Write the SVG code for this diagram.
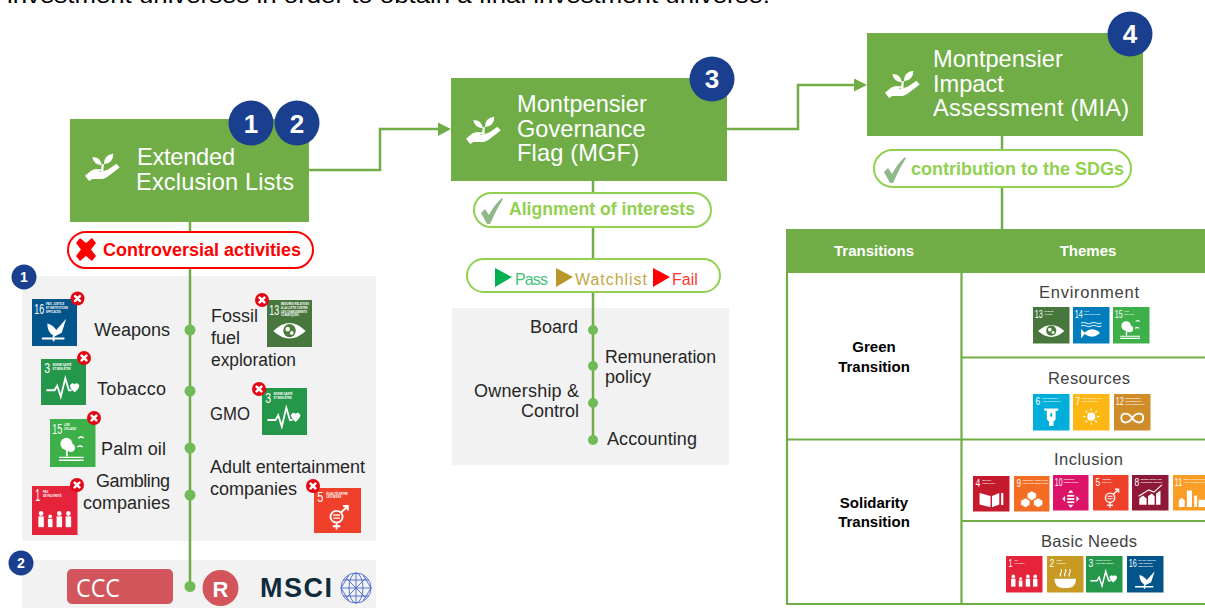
<svg xmlns="http://www.w3.org/2000/svg" width="1205" height="608" viewBox="0 0 1205 608">
<style>
text{font-family:"Liberation Sans",Arial,sans-serif}
.s{font-family:"Open Sans","DejaVu Sans",sans-serif}
.box{fill:#70ad47}
.ttl{fill:#fff;font-size:23.6px}
.badge{fill:#1a3f8f}
.bn{fill:#fff;font-size:26px;font-weight:bold;text-anchor:middle}
.sb{fill:#1a3f8f}
.sbn{fill:#fff;font-size:14px;font-weight:bold;text-anchor:middle}
.panel{fill:#f2f2f2}
.line{fill:none;stroke:#70ad47;stroke-width:2.5}
.pill{fill:#fff;stroke:#92d050;stroke-width:2}
.dot{fill:#70bb57}
.lb{fill:#262626;font-size:18px}
.th{fill:#fff;font-size:15px;font-weight:bold;text-anchor:middle}
.tg{fill:#000;font-size:15px;font-weight:bold;text-anchor:middle}
.tm{fill:#404040;font-size:16.5px;text-anchor:middle}
.grid{fill:none;stroke:#70ad47;stroke-width:2.2}
.n{fill:#fff;font-size:32px}
.l{fill:#fff;font-size:5.8px;font-weight:bold}
.w{fill:#fff}
.wl{fill:none;stroke:#fff;stroke-width:4}
.xb{fill:#e30613}
.xs{fill:none;stroke:#fff;stroke-width:2.6;stroke-linecap:round}
</style>
<defs>
<g id="hand"><path class="w" d="M0 17 L4 22 L7 20 L17 20 Q21 19 24 16 L33 9 L30 5.5 L22 11 L16 13 L13 13 L17 11 L10 10.5 L6 12 Z"/><path class="w" d="M15 13 L16 6 L18 6 L17.5 13 Z"/><path class="w" d="M16 7 Q8 6 7 -1 Q15 -1 16 7 Z"/><path class="w" d="M18 6 Q18 -3 27 -4 Q27 5 18 6 Z"/></g>
<g id="x"><circle class="xb" r="7"/><path class="xs" d="M-2.4 -2.4 L2.4 2.4 M2.4 -2.4 L-2.4 2.4"/></g>
<g id="i1"><g class="w"><circle cx="20" cy="56" r="5"/><rect x="14" y="62" width="12" height="22"/><circle cx="40" cy="62" r="4"/><rect x="35" y="67" width="10" height="17"/><circle cx="60" cy="56" r="5"/><rect x="54" y="62" width="12" height="22"/><circle cx="80" cy="56" r="5"/><rect x="74" y="62" width="12" height="22"/></g></g>
<g id="i2"><path class="w" d="M20 62 H80 Q78 86 58 88 H42 Q22 86 20 62Z"/><path class="wl" style="stroke-width:3" d="M38 56 q-4 -6 0 -10 q4 -5 0 -10 M50 56 q-4 -6 0 -10 q4 -5 0 -10 M62 56 q-4 -6 0 -10 q4 -5 0 -10"/></g>
<g id="i3"><path class="wl" d="M12 68 H30 L36 58 L44 82 L54 42 L62 68 H68"/><path class="w" d="M74 58 q6 -8 11 -2 q5 -6 11 2 q0 8 -11 16 q-11 -8 -11 -16Z" transform="translate(-6 2) scale(.95)"/></g>
<g id="i4"><path class="w" d="M18 48 L48 56 V88 L18 80 Z M52 56 L72 48 V80 L52 88 Z"/><rect class="w" x="77" y="48" width="6" height="34"/></g>
<g id="i5"><circle class="wl" cx="48" cy="64" r="13"/><path class="wl" d="M48 77 V92 M40 85 H56 M57 55 L72 40 M62 40 H72 V50"/><path class="wl" style="stroke-width:3" d="M41 60 H55 M41 67 H55"/></g>
<g id="i6"><path class="w" d="M30 40 H70 L68 46 H62 V70 L56 76 V88 H44 V76 L38 70 V46 H32 Z"/><path fill="#00b0d8" d="M50 50 Q56 59 50 64 Q44 59 50 50Z"/></g>
<g id="i7"><circle class="w" cx="50" cy="62" r="11"/><path class="wl" style="stroke-width:3" d="M50 40 V46 M50 78 V84 M28 62 H34 M66 62 H72 M34 46 L39 51 M61 73 L66 78 M66 46 L61 51 M39 73 L34 78"/></g>
<g id="i8"><path class="w" d="M20 84 V66 L30 58 L40 66 V84 Z M44 84 V60 L54 52 L62 60 V84 Z M66 84 V52 L78 44 V84 Z"/><path class="wl" style="stroke-width:3" d="M18 60 L46 42 L60 48 L82 28"/></g>
<g id="i9"><path class="w" d="M50 42 L63 49 V62 L50 69 L37 62 V49 Z M32 62 L45 69 V82 L32 89 L19 82 V69 Z M68 62 L81 69 V82 L68 89 L55 82 V69 Z" stroke="#f36d25" stroke-width="2"/></g>
<g id="i10"><path class="w" d="M50 42 L58 50 H42 Z M50 92 L58 84 H42 Z M26 67 L34 59 V75 Z M74 67 L66 59 V75 Z"/><rect class="w" x="40" y="56" width="20" height="5"/><rect class="w" x="40" y="65" width="20" height="5"/><rect class="w" x="40" y="74" width="20" height="5"/></g>
<g id="i11"><path class="w" d="M16 90 V72 L24 64 L32 72 V90 Z M38 90 V44 H52 V90 Z M58 90 V58 H66 V90 Z M70 90 V70 H88 V90 Z"/></g>
<g id="i12"><path class="wl" style="stroke-width:5" d="M50 66 C40 50 20 50 20 66 C20 82 40 82 50 66 C60 50 80 50 80 66 C80 82 60 82 50 66Z"/></g>
<g id="i13"><path class="w" d="M14 66 Q50 32 86 66 Q50 98 14 66Z"/><circle cx="50" cy="65" r="14" fill="#4c7d3a"/><circle class="w" cx="46" cy="62" r="5"/><circle class="w" cx="55" cy="70" r="4"/></g>
<g id="i14"><path class="wl" style="stroke-width:2.5" d="M22 44 q7 -4 14 0 t14 0 t14 0 t14 0 M22 52 q7 -4 14 0 t14 0 t14 0 t14 0"/><path class="w" d="M22 60 L32 70 Q50 54 68 66 Q78 72 68 76 Q50 88 32 74 L22 86 Z"/></g>
<g id="i15"><circle class="w" cx="36" cy="52" r="13"/><circle class="w" cx="46" cy="60" r="9"/><rect class="w" x="35" y="60" width="4" height="18"/><path class="wl" style="stroke-width:3" d="M20 80 H74 M20 86 H74 M62 40 l6 -3 l6 2 M60 58 l6 -2 l6 2"/></g>
<g id="i16"><path class="w" d="M34 52 Q48 56 54 66 L76 42 L66 72 L50 80 Q34 72 34 52Z"/><path class="wl" d="M22 84 H72 M48 78 V90"/></g>
<g id="t1"><rect width="100" height="100" fill="#e5243b"/><use href="#i1"/><text class="n" x="7" y="31" textLength="11" lengthAdjust="spacingAndGlyphs">1</text><text class="l" x="24" y="15">NO</text><text class="l" x="24" y="23">POVERTY</text></g>
<g id="t1f"><rect width="100" height="100" fill="#e5243b"/><use href="#i1"/><text class="n" x="7" y="31" textLength="11" lengthAdjust="spacingAndGlyphs">1</text><text class="l" x="24" y="15">PAS</text><text class="l" x="24" y="23">DE PAUVRETÉ</text></g>
<g id="t2"><rect width="100" height="100" fill="#c79a24"/><use href="#i2"/><text class="n" x="7" y="31" textLength="13" lengthAdjust="spacingAndGlyphs">2</text><text class="l" x="26" y="15">ZERO</text><text class="l" x="26" y="23">HUNGER</text></g>
<g id="t3"><rect width="100" height="100" fill="#25974a"/><use href="#i3"/><text class="n" x="7" y="31" textLength="13" lengthAdjust="spacingAndGlyphs">3</text><text class="l" x="26" y="15">GOOD HEALTH</text><text class="l" x="26" y="23">AND WELL-BEING</text></g>
<g id="t3f"><rect width="100" height="100" fill="#25974a"/><use href="#i3"/><text class="n" x="7" y="31" textLength="13" lengthAdjust="spacingAndGlyphs">3</text><text class="l" x="26" y="15">BONNE SANTÉ</text><text class="l" x="26" y="23">ET BIEN-ÊTRE</text></g>
<g id="t4"><rect width="100" height="100" fill="#c5192d"/><use href="#i4"/><text class="n" x="7" y="31" textLength="13" lengthAdjust="spacingAndGlyphs">4</text><text class="l" x="26" y="15">QUALITY</text><text class="l" x="26" y="23">EDUCATION</text></g>
<g id="t5"><rect width="100" height="100" fill="#ef402b"/><use href="#i5"/><text class="n" x="7" y="31" textLength="13" lengthAdjust="spacingAndGlyphs">5</text><text class="l" x="26" y="15">GENDER</text><text class="l" x="26" y="23">EQUALITY</text></g>
<g id="t5f"><rect width="100" height="100" fill="#ef402b"/><use href="#i5"/><text class="n" x="7" y="31" textLength="13" lengthAdjust="spacingAndGlyphs">5</text><text class="l" x="26" y="15">ÉGALITÉ ENTRE</text><text class="l" x="26" y="23">LES SEXES</text></g>
<g id="t6"><rect width="100" height="100" fill="#00afd9"/><use href="#i6"/><text class="n" x="7" y="31" textLength="13" lengthAdjust="spacingAndGlyphs">6</text><text class="l" x="26" y="15">CLEAN WATER</text><text class="l" x="26" y="23">AND SANITATION</text></g>
<g id="t7"><rect width="100" height="100" fill="#fdb713"/><use href="#i7"/><text class="n" x="7" y="31" textLength="13" lengthAdjust="spacingAndGlyphs">7</text><text class="l" x="24" y="15">AFFORDABLE AND</text><text class="l" x="24" y="23">CLEAN ENERGY</text></g>
<g id="t8"><rect width="100" height="100" fill="#8f1838"/><use href="#i8"/><text class="n" x="7" y="31" textLength="13" lengthAdjust="spacingAndGlyphs">8</text><text class="l" x="24" y="15">DECENT WORK AND</text><text class="l" x="24" y="23">ECONOMIC GROWTH</text></g>
<g id="t9"><rect width="100" height="100" fill="#f36d25"/><use href="#i9"/><text class="n" x="7" y="31" textLength="13" lengthAdjust="spacingAndGlyphs">9</text><text class="l" x="24" y="15" textLength="72">INDUSTRY, INNOVATION</text><text class="l" x="24" y="23" textLength="72">AND INFRASTRUCTURE</text></g>
<g id="t10"><rect width="100" height="100" fill="#dd1367"/><use href="#i10"/><text class="n" x="5" y="31" textLength="22" lengthAdjust="spacingAndGlyphs">10</text><text class="l" x="31" y="15">REDUCED</text><text class="l" x="31" y="23">INEQUALITIES</text></g>
<g id="t11"><rect width="100" height="100" fill="#f99d26"/><use href="#i11"/><text class="n" x="5" y="31" textLength="20" lengthAdjust="spacingAndGlyphs">11</text><text class="l" x="29" y="15" textLength="68">SUSTAINABLE CITIES</text><text class="l" x="29" y="23" textLength="68">AND COMMUNITIES</text></g>
<g id="t12"><rect width="100" height="100" fill="#cf8d2a"/><use href="#i12"/><text class="n" x="5" y="31" textLength="22" lengthAdjust="spacingAndGlyphs">12</text><text class="l" x="31" y="13">RESPONSIBLE</text><text class="l" x="31" y="21">CONSUMPTION</text><text class="l" x="31" y="29">AND PRODUCTION</text></g>
<g id="t13"><rect width="100" height="100" fill="#48773e"/><use href="#i13"/><text class="n" x="5" y="31" textLength="22" lengthAdjust="spacingAndGlyphs">13</text><text class="l" x="31" y="15">CLIMATE</text><text class="l" x="31" y="23">ACTION</text></g>
<g id="t13f"><rect width="100" height="100" fill="#48773e"/><use href="#i13"/><text class="n" x="5" y="31" textLength="22" lengthAdjust="spacingAndGlyphs">13</text><text class="l" x="31" y="11">MESURES RELATIVES</text><text class="l" x="31" y="19">À LA LUTTE CONTRE</text><text class="l" x="31" y="27">LES CHANGEMENTS</text><text class="l" x="31" y="35">CLIMATIQUES</text></g>
<g id="t14"><rect width="100" height="100" fill="#007dbc"/><use href="#i14"/><text class="n" x="5" y="31" textLength="22" lengthAdjust="spacingAndGlyphs">14</text><text class="l" x="31" y="15">LIFE</text><text class="l" x="31" y="23">BELOW WATER</text></g>
<g id="t15"><rect width="100" height="100" fill="#3eb049"/><use href="#i15"/><text class="n" x="5" y="31" textLength="22" lengthAdjust="spacingAndGlyphs">15</text><text class="l" x="31" y="15">LIFE</text><text class="l" x="31" y="23">ON LAND</text></g>
<g id="t16"><rect width="100" height="100" fill="#02558b"/><use href="#i16"/><text class="n" x="5" y="31" textLength="22" lengthAdjust="spacingAndGlyphs">16</text><text class="l" x="31" y="13">PEACE, JUSTICE</text><text class="l" x="31" y="21">AND STRONG</text><text class="l" x="31" y="29">INSTITUTIONS</text></g>
<g id="t16f"><rect width="100" height="100" fill="#02558b"/><use href="#i16"/><text class="n" x="5" y="31" textLength="22" lengthAdjust="spacingAndGlyphs">16</text><text class="l" x="31" y="13">PAIX, JUSTICE</text><text class="l" x="31" y="21">ET INSTITUTIONS</text><text class="l" x="31" y="29">EFFICACES</text></g>
<path id="tick" d="M0 11 L4 7 L8 13 Q13 3 21 -4 L22 -3 Q15 8 9 22 L6 22 Z" fill="#8fb98a"/>
</defs>
<rect width="1205" height="608" fill="#fff"/>
<text x="7" y="3" font-size="22px" fill="#000" textLength="763" lengthAdjust="spacingAndGlyphs">investment universes in order to obtain a final investment universe.</text>

<g id="panel-1"><rect class="panel" x="22" y="276" width="354" height="265"/></g>
<g id="panel-2"><rect class="panel" x="22" y="560" width="354" height="48"/></g>
<g id="panel-3"><rect class="panel" x="452" y="308" width="277" height="157"/></g>

<g id="connectors">
<path class="line" d="M309 170 H380 V129 H439"/><path d="M438 122.500 L451 129 L438 136Z" fill="#70ad47"/>
<path class="line" d="M727 129 H798 V85 H855"/><path d="M854 78.500 L867 85 L854 91.500Z" fill="#70ad47"/>
<path class="line" d="M190 221 V587"/>
<path class="line" d="M593 181 V440"/>
<path class="line" d="M1002 136 V229"/>
<circle class="dot" cx="190" cy="330" r="5.500"/><circle class="dot" cx="190" cy="391" r="5.500"/><circle class="dot" cx="190" cy="448" r="5.500"/><circle class="dot" cx="190" cy="495" r="5.500"/><circle class="dot" cx="190" cy="586.500" r="5.500"/>
<circle class="dot" cx="593" cy="330" r="5"/><circle class="dot" cx="593" cy="366" r="5"/><circle class="dot" cx="593" cy="403" r="5"/><circle class="dot" cx="593" cy="440" r="5"/>
</g>

<g id="node-exclusion">
<rect class="box" x="70" y="119" width="239" height="103"/>
<use href="#hand" transform="translate(85,158) scale(1.05)"/>
<text class="ttl" x="137" y="165" textLength="98" lengthAdjust="spacing">Extended</text>
<text class="ttl" x="136" y="190" textLength="158" lengthAdjust="spacing">Exclusion  Lists</text>
<circle class="badge" cx="251" cy="123" r="22.500"/><text class="bn" x="251" y="133">1</text>
<circle class="badge" cx="297" cy="123" r="22.500"/><text class="bn" x="297" y="133">2</text>
</g>
<g id="node-mgf">
<rect class="box" x="451" y="78" width="276" height="103"/>
<use href="#hand" transform="translate(466,121) scale(1.05)"/>
<text class="ttl" x="517" y="112">Montpensier</text>
<text class="ttl" x="517" y="137">Governance</text>
<text class="ttl" x="517" y="161" textLength="122">Flag (MGF)</text>
<circle class="badge" cx="712" cy="79" r="22.500"/><text class="bn" x="712" y="88">3</text>
</g>
<g id="node-mia">
<rect class="box" x="867" y="33" width="276" height="103"/>
<use href="#hand" transform="translate(885,75) scale(1.05)"/>
<text class="ttl" x="933" y="67">Montpensier</text>
<text class="ttl" x="933" y="92">Impact</text>
<text class="ttl" x="933" y="116" textLength="196">Assessment (MIA)</text>
<circle class="badge" cx="1130" cy="34" r="22.500"/><text class="bn" x="1130" y="43">4</text>
</g>

<g id="pill-controversial">
<rect x="68" y="232" width="245" height="36" rx="18" fill="#fff" stroke="#ff0000" stroke-width="2"/>
<path d="M76 243 L80 238 L86 243 L92 238 L96 243 L91 249.500 L96 256 L92 261 L86 256 L80 261 L76 256 L81 249.500 Z" fill="#ff0000"/>
<text x="103" y="256" font-size="18px" font-weight="bold" fill="#ff0000" textLength="198" lengthAdjust="spacingAndGlyphs">Controversial activities</text>
</g>
<g id="pill-alignment">
<rect x="474" y="193" width="237" height="34" rx="17" class="pill"/>
<use href="#tick" transform="translate(481,202) scale(1)"/>
<text x="509" y="215" font-size="18px" font-weight="bold" fill="#92d050" textLength="186" lengthAdjust="spacingAndGlyphs">Alignment of interests</text>
</g>
<g id="pill-flags">
<rect x="467" y="259" width="253" height="33" rx="16.500" class="pill"/>
<path d="M495 268 L512 277 L495 287Z" fill="#00b050"/>
<text x="515" y="285" font-size="16px" fill="#00b050" opacity=".75" textLength="33">Pass</text>
<path d="M556 268 L573 277 L556 287Z" fill="#b8982a"/>
<text x="575" y="285" font-size="16px" fill="#b8982a" opacity=".85" textLength="72">Watchlist</text>
<path d="M653 268 L670 277 L653 287Z" fill="#ff0000"/>
<text x="672" y="285" font-size="16px" fill="#ff0000" opacity=".8">Fail</text>
</g>
<g id="pill-sdgs">
<rect x="874" y="150" width="257" height="37" rx="18.500" class="pill"/>
<use href="#tick" transform="translate(884,161) scale(1)"/>
<text x="911" y="175" font-size="18px" font-weight="bold" fill="#92d050" textLength="213" lengthAdjust="spacing">contribution to the SDGs</text>
</g>

<g id="small-badges">
<circle class="sb" cx="24" cy="277" r="12.500"/><text class="sbn" x="24" y="282">1</text>
<circle class="sb" cx="21" cy="563" r="12.500"/><text class="sbn" x="21" y="568">2</text>
</g>

<g id="activities">
<use href="#t16f" transform="translate(32,299) scale(.45,.47)"/><use href="#x" x="77.500" y="298.500"/>
<use href="#t3f" transform="translate(41,359) scale(.45,.46)"/><use href="#x" x="84" y="358"/>
<use href="#t15" transform="translate(50,419) scale(.455,.48)"/><use href="#x" x="94" y="418"/>
<use href="#t1f" transform="translate(32,486) scale(.455,.49)"/><use href="#x" x="77" y="485"/>
<use href="#t13f" transform="translate(267,300) scale(.45,.47)"/><use href="#x" x="262" y="300"/>
<use href="#t3f" transform="translate(262,388) scale(.45,.47)"/><use href="#x" x="259" y="389"/>
<use href="#t5f" transform="translate(314,488) scale(.47,.45)"/><use href="#x" x="313" y="486"/>
<text class="lb" x="170" y="336" text-anchor="end">Weapons</text>
<text class="lb" x="97" y="395" textLength="69">Tobacco</text>
<text class="lb" x="101" y="455" textLength="65">Palm  oil</text>
<text class="lb" x="96" y="487" textLength="74">Gambling</text>
<text class="lb" x="170" y="509" text-anchor="end">companies</text>
<text class="lb" x="211" y="322">Fossil</text>
<text class="lb" x="211" y="344">fuel</text>
<text class="lb" x="211" y="366" textLength="85" lengthAdjust="spacingAndGlyphs">exploration</text>
<text class="lb" x="210" y="420" textLength="40" lengthAdjust="spacingAndGlyphs">GMO</text>
<text class="lb" x="210" y="473" textLength="155">Adult  entertainment</text>
<text class="lb" x="210" y="495">companies</text>
</g>

<g id="providers">
<rect x="67" y="569" width="106" height="35" rx="5" fill="#d2555b"/>
<text x="76" y="597" font-size="26px" fill="#fff" class="s" textLength="44" lengthAdjust="spacingAndGlyphs">CCC</text>
<circle cx="220.500" cy="588" r="18" fill="#d2555b"/>
<text x="220.500" y="597" font-size="22px" font-weight="bold" fill="#fff" text-anchor="middle">R</text>
<text x="260" y="597" font-size="27px" font-weight="bold" fill="#0e2a3c" textLength="72" lengthAdjust="spacing">MSCI</text>
<g fill="none" stroke="#4a66c9" stroke-width=".9"><circle cx="356" cy="588" r="15"/><ellipse cx="356" cy="588" rx="7" ry="15"/><path d="M341 588 H371 M343 580 H369 M343 596 H369 M356 573 V603 M346 578 L366 598 M366 578 L346 598 M349 575 L341 588 L349 601 M363 575 L371 588 L363 601"/></g>
</g>

<g id="panel-gov">
<text class="lb" x="578" y="333" text-anchor="end">Board</text>
<text class="lb" x="605" y="363" textLength="111" lengthAdjust="spacingAndGlyphs">Remuneration</text>
<text class="lb" x="605" y="383">policy</text>
<text class="lb" x="474" y="397" textLength="105">Ownership  &amp;</text>
<text class="lb" x="579" y="417" text-anchor="end">Control</text>
<text class="lb" x="607" y="445" textLength="90">Accounting</text>
</g>

<g id="table">
<rect x="786" y="229" width="419" height="44" fill="#70ad47"/>
<path class="grid" d="M787 273 V604 H1205 M961.500 273 V604 M961.500 357.500 H1205 M787 439.500 H1205 M961.500 521 H1205"/>
<text class="th" x="874" y="256">Transitions</text>
<text class="th" x="1088" y="256">Themes</text>
<text class="tg" x="874" y="352">Green</text>
<text class="tg" x="874" y="372">Transition</text>
<text class="tg" x="874" y="508">Solidarity</text>
<text class="tg" x="874" y="527">Transition</text>
<text class="tm" x="1089" y="298" textLength="100">Environment</text>
<text class="tm" x="1089" y="384" textLength="82">Resources</text>
<text class="tm" x="1088.500" y="465" textLength="69">Inclusion</text>
<text class="tm" x="1089" y="547" textLength="96">Basic Needs</text>
<use href="#t13" transform="translate(1033,307) scale(.365)"/>
<use href="#t14" transform="translate(1073,307) scale(.365)"/>
<use href="#t15" transform="translate(1113,307) scale(.365)"/>
<use href="#t6" transform="translate(1033,394) scale(.365)"/>
<use href="#t7" transform="translate(1073,394) scale(.365)"/>
<use href="#t12" transform="translate(1114,394) scale(.365)"/>
<use href="#t4" transform="translate(973,476) scale(.365,.355)"/>
<use href="#t9" transform="translate(1014,476) scale(.355)"/>
<use href="#t10" transform="translate(1053,475) scale(.355)"/>
<use href="#t5" transform="translate(1093,475) scale(.355)"/>
<use href="#t8" transform="translate(1132,475) scale(.365,.355)"/>
<use href="#t11" transform="translate(1173,475) scale(.365,.355)"/>
<use href="#t1" transform="translate(1006,556) scale(.365)"/>
<use href="#t2" transform="translate(1047,556) scale(.365)"/>
<use href="#t3" transform="translate(1086,556) scale(.365)"/>
<use href="#t16" transform="translate(1127,556) scale(.365)"/>
</g>
</svg>
